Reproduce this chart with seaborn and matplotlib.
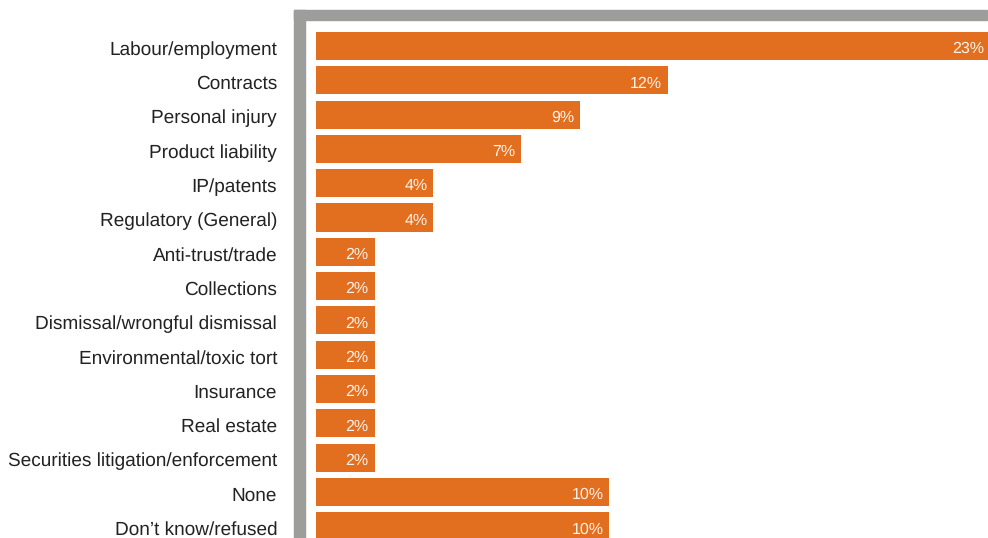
import matplotlib
matplotlib.use("Agg")
import matplotlib.pyplot as plt
import seaborn as sns
import pandas as pd
from matplotlib.patches import Rectangle

categories = ["Labour/employment", "Contracts", "Personal injury", "Product liability",
              "IP/patents", "Regulatory (General)", "Anti-trust/trade", "Collections",
              "Dismissal/wrongful dismissal", "Environmental/toxic tort", "Insurance",
              "Real estate", "Securities litigation/enforcement", "None", "Don\u2019t know/refused"]
values = [23, 12, 9, 7, 4, 4, 2, 2, 2, 2, 2, 2, 2, 10, 10]
value_labels = [f"{v}%" for v in values]

df = pd.DataFrame({"category": categories, "value": values})

sns.set_theme(style="white")
plt.rcParams["font.family"] = ["Liberation Sans", "DejaVu Sans"]
plt.rcParams["text.hinting"] = "no_hinting"
plt.rcParams["text.hinting_factor"] = 1

W, H = 988, 538
fig = plt.figure(figsize=(W / 100, H / 100), dpi=100)
ax_left, ax_right = 316, 988
ax = fig.add_axes([ax_left / W, 0, (ax_right - ax_left) / W, 1])

orange = "#E26E1F"
sns.barplot(data=df, y="category", x="value", orient="h", color=orange,
            saturation=1, width=0.82, linewidth=0, ax=ax)

pitch = 34.3
c0 = 46
ax.set_ylim((H - c0) / pitch, -c0 / pitch)
ax.set_xlim(0, 22.92)
ax.set_xlabel("")
ax.set_ylabel("")
ax.set_xticks([])
for s in ax.spines.values():
    s.set_visible(False)
ax.tick_params(axis="y", length=0, pad=28, labelsize=13.35, labelcolor="#222222")
for t in ax.get_yticklabels():
    t.set_transform(t.get_transform() + matplotlib.transforms.ScaledTranslation(0, -2 / 100, fig.dpi_scale_trans))

for i, (v, lab) in enumerate(zip(values, value_labels)):
    ax.annotate(lab, xy=(v, i), xytext=(-4.2, -2.2), textcoords="offset points",
                ha="right", va="center", color="#FFF4EC", fontsize=11.3,
                annotation_clip=False)

gray = "#9d9d9b"
fig.patches.append(Rectangle((294 / W, 1 - 20 / H), (987 - 294) / W, 10 / H,
                             transform=fig.transFigure, color=gray, zorder=5))
fig.patches.append(Rectangle((294 / W, 0), 11 / W, 1 - 10 / H,
                             transform=fig.transFigure, color=gray, zorder=5))

fig.savefig("out.png", dpi=100)
